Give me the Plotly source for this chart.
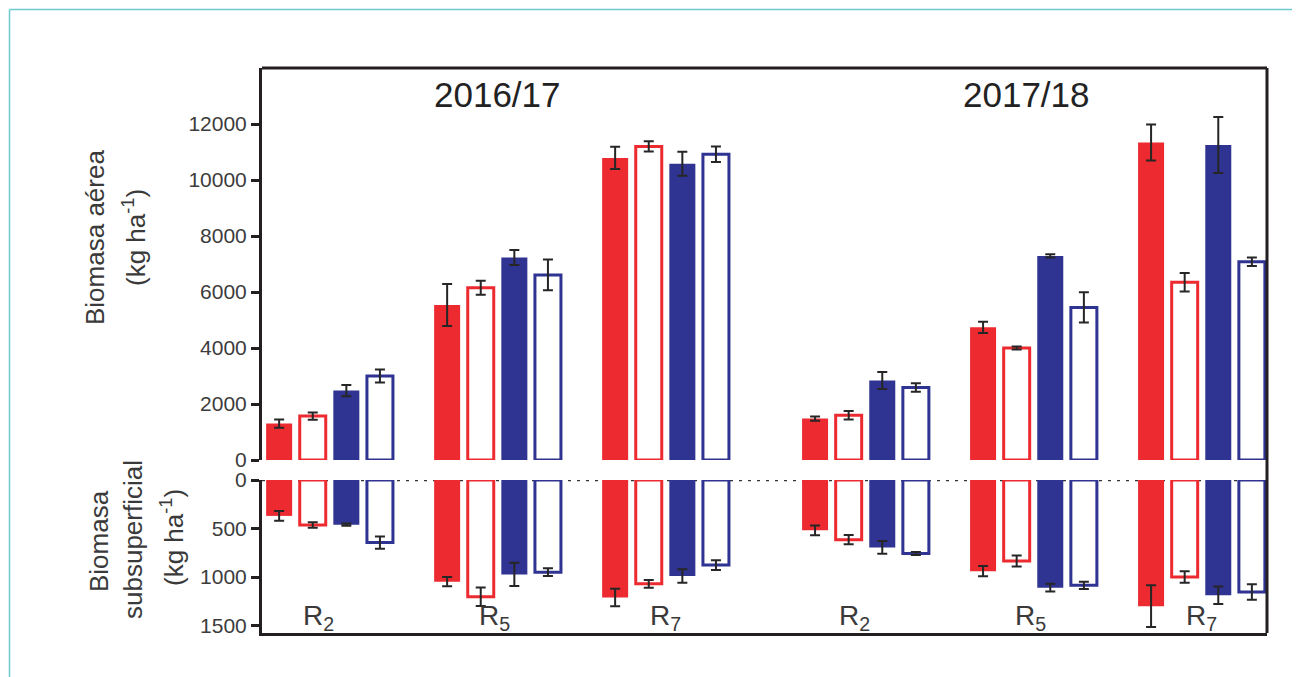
import plotly.graph_objects as go

# ---------------- data ----------------
seasons = ["2016/17", "2017/18"]
stages = ["R<sub>2</sub>", "R<sub>5</sub>", "R<sub>7</sub>"]

# order of values: 2016/17 R2, R5, R7, 2017/18 R2, R5, R7
# aerial biomass (kg ha-1)
aerea_red_filled = [1300, 5540, 10790, 1480, 4740, 11340]
aerea_red_filled_err = [150, 750, 400, 75, 200, 640]
aerea_red_open = [1570, 6150, 11200, 1600, 4000, 6350]
aerea_red_open_err = [130, 250, 180, 150, 50, 330]
aerea_blue_filled = [2480, 7230, 10580, 2840, 7290, 11250]
aerea_blue_filled_err = [200, 270, 430, 300, 60, 1000]
aerea_blue_open = [3000, 6610, 10920, 2590, 5450, 7080]
aerea_blue_open_err = [230, 550, 280, 150, 540, 150]

# belowground biomass (kg ha-1)
sub_red_filled = [370, 1048, 1210, 519, 940, 1300]
sub_red_filled_err = [50, 47, 90, 50, 53, 215]
sub_red_open = [464, 1203, 1070, 615, 835, 1000]
sub_red_open_err = [28, 95, 40, 48, 57, 60]
sub_blue_filled = [460, 973, 990, 695, 1110, 1189]
sub_blue_filled_err = [12, 120, 70, 65, 40, 90]
sub_blue_open = [645, 950, 877, 758, 1086, 1155]
sub_blue_open_err = [63, 40, 50, 15, 38, 80]

top_ticks = [0, 2000, 4000, 6000, 8000, 10000, 12000]
bottom_ticks = [0, 500, 1000, 1500]

# ---------------- styling ----------------
RED = "#EC2A30"
BLUE = "#2F3391"
AXIS = "#231F20"
ERR = "#262626"
FONT = "Liberation Sans, Arial, sans-serif"
SEASON_GAP = 0.19

W, H = 1300, 677
OFF = 8  # page offset of the figure inside the browser window
# plot area in screen pixels
SX0, SX1, SY0, SY1 = 262, 1267, 68, 633
L = SX0 - OFF
T = SY0 - OFF
R = W - (SX1 - OFF)
B = H - (SY1 - OFF)
PW, PH = SX1 - SX0, SY1 - SY0


def px_x(px):
    return (px - SX0) / PW


def px_y(py):
    return (SY1 - py) / PH


# group positions derived from season / stage indices
xpos = [si * len(stages) + st + si * SEASON_GAP
        for si in range(len(seasons)) for st in range(len(stages))]

fig = go.Figure()

panels = [
    ("x", "y", [(aerea_red_filled, aerea_red_filled_err, RED, True),
                (aerea_red_open, aerea_red_open_err, RED, False),
                (aerea_blue_filled, aerea_blue_filled_err, BLUE, True),
                (aerea_blue_open, aerea_blue_open_err, BLUE, False)]),
    ("x2", "y2", [(sub_red_filled, sub_red_filled_err, RED, True),
                  (sub_red_open, sub_red_open_err, RED, False),
                  (sub_blue_filled, sub_blue_filled_err, BLUE, True),
                  (sub_blue_open, sub_blue_open_err, BLUE, False)]),
]

for xa, ya, series in panels:
    for vals, errs, col, filled in series:
        fig.add_trace(go.Bar(
            x=xpos, y=vals, xaxis=xa, yaxis=ya,
            marker=dict(color=col if filled else "white",
                        line=dict(color=col, width=0 if filled else 3)),
            error_y=dict(type="data", array=errs, visible=True,
                         color=ERR, thickness=2, width=5),
            showlegend=False, hoverinfo="skip",
        ))

xrange = [-0.402, 5.58]
top_dom = [px_y(460), 1]
bot_dom = [0, px_y(480)]
top_max = 14000
bot_max = 1577

tickfont = dict(family=FONT, size=21, color="#3C3C3C")

fig.update_layout(
    width=W, height=H,
    margin=dict(l=L, r=R, t=T, b=B, pad=0),
    paper_bgcolor="white", plot_bgcolor="rgba(0,0,0,0)",
    barmode="group", bargap=0.2, bargroupgap=0.226,
    xaxis=dict(domain=[0, 1], anchor="y", range=xrange, showticklabels=False,
               ticks="", showline=False, showgrid=False, zeroline=False),
    xaxis2=dict(domain=[0, 1], anchor="y2", range=xrange, matches="x",
                showticklabels=False, ticks="", showline=True, linewidth=3,
                linecolor=AXIS, showgrid=False, zeroline=False),
    yaxis=dict(domain=top_dom, anchor="x", range=[0, top_max],
               tickvals=top_ticks, tickformat="d", ticks="outside", ticklen=8,
               tickwidth=3, tickcolor=AXIS, showline=True, linewidth=3,
               linecolor=AXIS, showgrid=False, zeroline=False, tickfont=tickfont),
    yaxis2=dict(domain=bot_dom, anchor="x2", range=[bot_max, 0],
                tickvals=bottom_ticks, tickformat="d", ticks="outside", ticklen=8,
                tickwidth=3, tickcolor=AXIS, showline=True, linewidth=3,
                linecolor=AXIS, showgrid=False, zeroline=False, tickfont=tickfont),
)

TEAL = "#6CCBD0"
shapes = [
    # dotted zero line in the lower panel
    dict(type="line", xref="paper", yref="y2", x0=0, x1=1, y0=0, y1=0,
         line=dict(color="#333333", width=2.5, dash="3px,6px"), layer="below"),
    # frame: top and right
    dict(type="line", xref="paper", yref="paper", x0=0, x1=1, y0=1, y1=1,
         line=dict(color=AXIS, width=3)),
    dict(type="line", xref="paper", yref="paper", x0=1, x1=1, y0=0, y1=1,
         line=dict(color=AXIS, width=3)),
    # outer teal border (top and left edges)
    dict(type="line", xref="paper", yref="paper",
         x0=px_x(9.5), x1=px_x(1310), y0=px_y(9.5), y1=px_y(9.5),
         line=dict(color=TEAL, width=1.5)),
    dict(type="line", xref="paper", yref="paper",
         x0=px_x(9.5), x1=px_x(9.5), y0=px_y(9.5), y1=px_y(700),
         line=dict(color=TEAL, width=1.5)),
]
fig.update_layout(shapes=shapes)

ann = []
title_font = dict(family=FONT, size=35, color="#222222")
season_centers = [px_x(497), px_x(1026)]
for s, xc in zip(seasons, season_centers):
    ann.append(dict(text=s, xref="paper", yref="paper", x=xc, y=px_y(94),
                    xanchor="center", yanchor="middle", showarrow=False,
                    font=title_font))

stage_shift = [-11, -3, 0]
lab_font = dict(family=FONT, size=28, color="#3A3A3A")
for i, xv in enumerate(xpos):
    ann.append(dict(text=stages[i % len(stages)], xref="x2", yref="paper",
                    x=xv, y=px_y(617), xshift=stage_shift[i % len(stages)],
                    xanchor="center", yanchor="middle", showarrow=False,
                    font=lab_font))

ylab_font = dict(family=FONT, size=26, color="#3A3A3A")
ylabels = [("Biomasa aérea", 95, 238), ("(kg ha<sup>-1</sup>)", 134, 238),
           ("Biomasa", 99, 541), ("subsuperficial", 133, 540),
           ("(kg ha<sup>-1</sup>)", 172, 538)]
for txt, px, py in ylabels:
    ann.append(dict(text=txt, xref="paper", yref="paper", x=px_x(px), y=px_y(py),
                    xanchor="center", yanchor="middle", textangle=-90,
                    showarrow=False, font=ylab_font))

fig.update_layout(annotations=ann)

fig.write_html("out.html")
